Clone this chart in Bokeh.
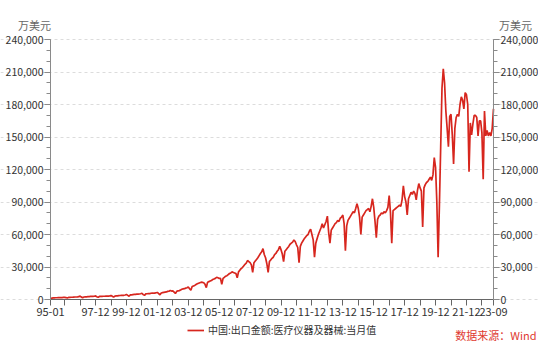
from bokeh.plotting import figure
from bokeh.models import (Range1d, FixedTicker, NumeralTickFormatter, LinearAxis, Grid,
                          Label, Legend, LegendItem, ColumnDataSource)
from bokeh.embed import file_html
from bokeh.resources import INLINE

# ---------------- data (万美元, monthly, 1995-01 .. 2023-09) ----------------
START_YEAR = 1995
Y1995 = [1400, 1100, 1500, 1500, 1600, 1600, 1700, 1700, 1800, 1800, 1900, 2000]
Y1996 = [1800, 1400, 1900, 2000, 2100, 2100, 2200, 2300, 2300, 2400, 2600, 3200]
Y1997 = [2200, 1700, 2300, 2400, 2500, 2600, 2700, 2800, 2800, 2900, 3000, 3300]
Y1998 = [2600, 2000, 2800, 2800, 2900, 3000, 3000, 3100, 3200, 3100, 3300, 3600]
Y1999 = [3000, 2200, 3200, 3300, 3400, 3600, 3700, 3800, 3900, 3900, 4200, 4600]
Y2000 = [3800, 3000, 4200, 4300, 4500, 4700, 4800, 5000, 5000, 5100, 5300, 5800]
Y2001 = [4500, 3800, 5200, 5300, 5500, 5400, 5800, 6000, 5800, 5900, 6200, 6500]
Y2002 = [5500, 4300, 6000, 6300, 6600, 6800, 7000, 7500, 7600, 8300, 7800, 8000]
Y2003 = [6800, 5500, 7500, 8000, 8200, 8800, 9500, 9800, 10000, 10500, 10800, 11500]
Y2004 = [10000, 8500, 12000, 12500, 13000, 13800, 14500, 15000, 15500, 16000, 15800, 15500]
Y2005 = [14000, 11000, 16000, 16500, 17000, 17500, 18500, 19000, 19500, 20500, 20000, 19500]
Y2006 = [19500, 14000, 19500, 20500, 21500, 22000, 23000, 24000, 24500, 25500, 25000, 24500]
Y2007 = [24000, 20000, 25500, 27000, 28500, 29500, 31000, 32500, 33500, 36000, 35000, 34000]
Y2008 = [32000, 25000, 34000, 35500, 37000, 38500, 40500, 42500, 44000, 47000, 41500, 38500]
Y2009 = [33000, 25000, 35000, 36500, 38000, 39000, 41500, 42500, 44500, 46000, 49000, 46000]
Y2010 = [42000, 35000, 44500, 46000, 47500, 49000, 51000, 52000, 53000, 55000, 53500, 50500]
Y2011 = [48000, 34000, 49000, 52000, 54000, 56000, 57500, 59000, 60000, 63000, 65000, 60000]
Y2012 = [55000, 39000, 52000, 56000, 60000, 63000, 66000, 70000, 66000, 69000, 72000, 77000]
Y2013 = [62000, 52000, 64000, 66000, 68000, 70000, 71000, 73000, 72000, 75000, 76000, 78000]
Y2014 = [70000, 45000, 68000, 73000, 75000, 77000, 79000, 81000, 80000, 84000, 88500, 84000]
Y2015 = [76000, 60000, 76000, 78000, 80000, 82000, 83000, 84000, 81000, 86000, 93000, 85000]
Y2016 = [72000, 57000, 74000, 77000, 78000, 80000, 79000, 81000, 80000, 82000, 85000, 96000]
Y2017 = [80000, 52000, 82000, 83000, 84000, 85000, 86000, 87000, 86000, 92000, 105000, 95000]
Y2018 = [90000, 78000, 93000, 96000, 99000, 97000, 100000, 98000, 92000, 101000, 107000, 103000]
Y2019 = [100000, 67000, 103000, 106000, 108000, 109000, 111000, 113000, 110000, 115000, 131000, 122000]
Y2020 = [90000, 39000, 87000, 141000, 195000, 213000, 200000, 174000, 158000, 141000, 169000, 171000]
Y2021 = [152000, 125000, 158000, 168000, 171000, 169000, 180000, 187000, 184000, 176000, 191000, 189000]
Y2022 = [180000, 118000, 163000, 152000, 162000, 170000, 170000, 168000, 151000, 165000, 165000, 154000]
Y2023 = [111000, 174000, 151000, 156000, 151000, 154000, 151000, 158000, 176000]

YEARS = [Y1995, Y1996, Y1997, Y1998, Y1999, Y2000, Y2001, Y2002, Y2003, Y2004,
         Y2005, Y2006, Y2007, Y2008, Y2009, Y2010, Y2011, Y2012, Y2013, Y2014,
         Y2015, Y2016, Y2017, Y2018, Y2019, Y2020, Y2021, Y2022, Y2023]

X_TICK_LABELS = ["95-01", "97-12", "99-12", "01-12", "03-12", "05-12", "07-12",
                 "09-12", "11-12", "13-12", "15-12", "17-12", "19-12", "21-12", "23-09"]
Y_TICKS = [0, 30000, 60000, 90000, 120000, 150000, 180000, 210000, 240000]
Y_MINOR_STEP = 10000
UNIT = "万美元"
SERIES_NAME = "中国:出口金额:医疗仪器及器械:当月值"
SOURCE = "数据来源：Wind"

# ---------------- build ----------------
values = [v for yr in YEARS for v in yr]
idx = list(range(len(values)))
src = ColumnDataSource(dict(x=idx, y=values))
last = len(values) - 1


def month_index(lbl):
    yy, mm = lbl.split("-")
    year = 1900 + int(yy) if int(yy) >= 50 else 2000 + int(yy)
    return (year - START_YEAR) * 12 + int(mm) - 1


labeled = {month_index(l): l for l in X_TICK_LABELS}
dec_ticks = [m for m in idx if m % 12 == 11]
x_ticks = sorted(set(dec_ticks) | set(labeled.keys()))
overrides = {m: labeled.get(m, "") for m in x_ticks}

# canvas geometry (canvas = frame, pixels from canvas top-left)
W, H = 538, 341
AX_L, AX_R = 50, 493        # canvas x of left / right axis
AX_T, AX_B = 39, 299        # canvas y of top tick / zero line
kx = (AX_R - AX_L) / last
ky = (Y_TICKS[-1] - Y_TICKS[0]) / (AX_B - AX_T)


def dx(px):  # canvas px -> data x
    return (px - AX_L) / kx


def dy(py):  # canvas py -> data y
    return Y_TICKS[0] + (AX_B - py) * ky


FONT = "Noto Sans CJK SC"
p = figure(width=W, height=H, output_backend="svg", toolbar_location=None,
           x_range=Range1d(dx(0), dx(W)), y_range=Range1d(dy(H), dy(0)),
           x_axis_location=None, y_axis_location=None,
           min_border=0)
p.outline_line_color = None
p.background_fill_color = "white"
p.border_fill_color = "white"
p.xgrid.visible = False
p.ygrid.visible = False

yticker = FixedTicker(ticks=Y_TICKS,
                      minor_ticks=list(range(Y_TICKS[0], Y_TICKS[-1] + 1, Y_MINOR_STEP)))
p.add_layout(Grid(dimension=1, ticker=yticker, bounds=(0, last),
                  grid_line_color="#dcdcdc", grid_line_dash="3 3"))

r = p.line("x", "y", source=src, line_color="#d7261e", line_width=1.7)

left_axis = LinearAxis(fixed_location=0)
right_axis = LinearAxis(fixed_location=last)
p.add_layout(left_axis, "left")
p.add_layout(right_axis, "right")
for ax in (left_axis, right_axis):
    ax.ticker = yticker
    ax.bounds = (Y_TICKS[0], Y_TICKS[-1])
    ax.formatter = NumeralTickFormatter(format="0,0")
    ax.axis_line_color = "#8a8a8a"
    ax.major_tick_line_color = "#8a8a8a"
    ax.minor_tick_line_color = "#8a8a8a"
    ax.major_tick_in = 0
    ax.major_tick_out = 6
    ax.minor_tick_in = 0
    ax.minor_tick_out = 4
    ax.major_label_text_font = FONT
    ax.major_label_text_font_size = "10.5px"
    ax.major_label_text_color = "#333333"
    ax.major_label_standoff = 1

xa = LinearAxis(fixed_location=Y_TICKS[0])
p.add_layout(xa, "below")
xa.bounds = (0, last)
xa.ticker = FixedTicker(ticks=x_ticks, minor_ticks=[])
xa.major_label_overrides = overrides
xa.axis_line_color = "#666666"
xa.major_tick_line_color = "#666666"
xa.major_tick_in = 0
xa.major_tick_out = 6
xa.major_label_text_font = FONT
xa.major_label_text_font_size = "11px"
xa.major_label_text_color = "#333333"
xa.major_label_standoff = 2

for cx in (AX_L - 16, AX_R + 22):
    p.add_layout(Label(x=dx(cx), y=dy(24), text=UNIT,
                       text_align="center", text_baseline="middle",
                       text_font=FONT, text_font_size="11px", text_color="#666666"))

p.add_layout(Label(x=dx(536), y=dy(334), text=SOURCE,
                   text_align="right", text_baseline="middle",
                   text_font=FONT, text_font_size="11px", text_color="#e03a30"))

legend = Legend(items=[LegendItem(label=SERIES_NAME, renderers=[r])],
                location=(187, 4), padding=0, margin=0,
                glyph_width=17, glyph_height=14, label_height=14, label_standoff=4,
                label_text_font=FONT, label_text_font_size="10px",
                label_text_color="#333333",
                border_line_color=None, background_fill_alpha=0)
p.add_layout(legend)

open("out.html", "w").write(file_html(p, INLINE))
